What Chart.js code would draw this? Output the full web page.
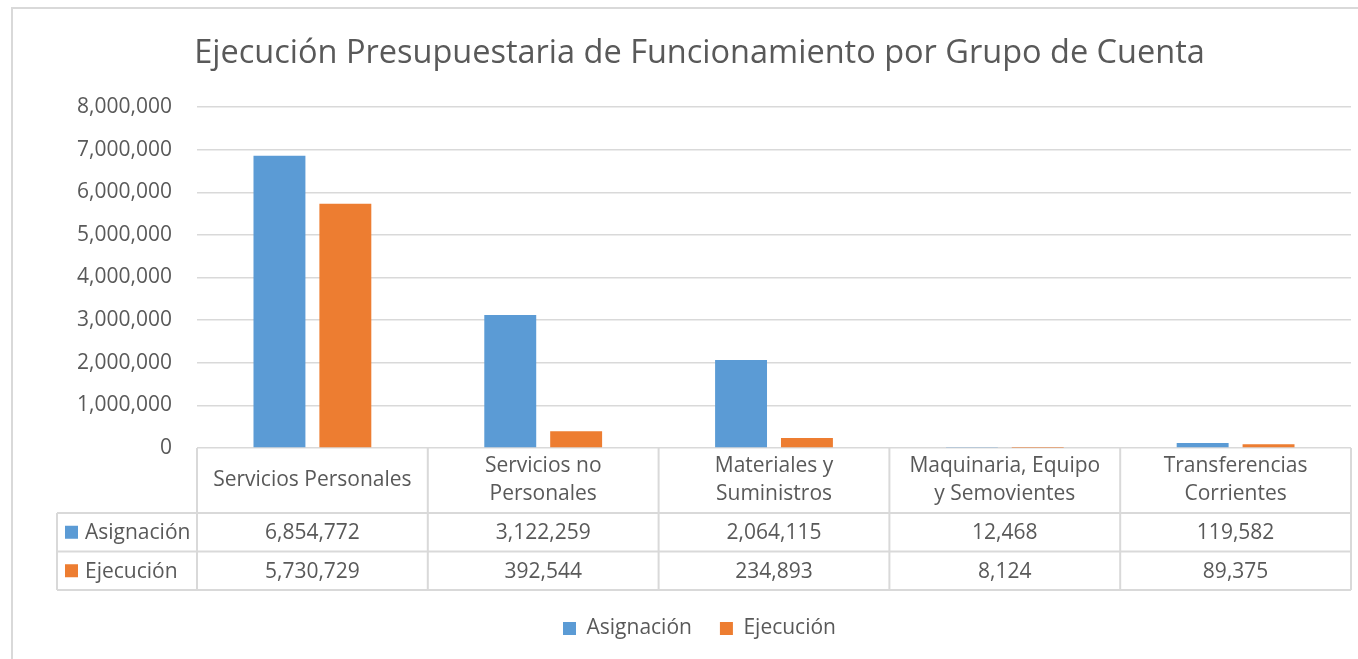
<!DOCTYPE html>
<html>
<head>
<meta charset="utf-8">
<script src="https://cdn.jsdelivr.net/npm/chart.js@4.4.1/dist/chart.umd.min.js"></script>
<style>
    html, body { margin: 0; padding: 0; background: #fff; overflow: hidden; }
    #wrap { position: relative; width: 1358px; height: 659px; overflow: hidden; }
    #frame { position: absolute; left: 11px; top: 7px; width: 1400px; height: 700px; border: 2px solid #d9d9d9; }
    canvas { position: absolute; left: 0; top: 0; }
</style>
</head>
<body>
<div id="wrap">
    <div id="frame"></div>
    <canvas id="budgetChart" width="1358" height="669"></canvas>
</div>
<script>
// ===============================
// DATA
// ===============================
const categories = [
    ["Servicios Personales"],
    ["Servicios no", "Personales"],
    ["Materiales y", "Suministros"],
    ["Maquinaria, Equipo", "y Semovientes"],
    ["Transferencias", "Corrientes"]
];
const asignacion = [6854772, 3122259, 2064115, 12468, 119582];
const ejecucion = [5730729, 392544, 234893, 8124, 89375];
const yTicks = [0, 1000000, 2000000, 3000000, 4000000, 5000000, 6000000, 7000000, 8000000];

const BLUE = "#5b9bd5";
const ORANGE = "#ed7d31";
const TEXT = "#595959";
const LINE = "#d9d9d9";
const FONT = "'Open Sans'";
const SMALL = 21;

const fmt = v => v.toLocaleString("en-US");

// ===============================
// DATA TABLE UNDER THE AXIS
// ===============================
const dataTablePlugin = {
    id: "dataTable",
    afterDraw(chart) {
        const ctx = chart.ctx;
        const xs = chart.scales.x;
        const area = chart.chartArea;
        const n = categories.length;
        const colW = (area.right - area.left) / n;
        const rowH = 38.5;
        const top = area.bottom;
        const bottom = xs.bottom;
        const headBottom = bottom - 2 * rowH;
        const tableLeft = 57;

        const rows = chart.data.datasets;

        ctx.save();
        ctx.strokeStyle = LINE;
        ctx.lineWidth = 2;
        ctx.beginPath();
        [headBottom, headBottom + rowH, bottom].forEach(y => {
            ctx.moveTo(tableLeft, y);
            ctx.lineTo(area.right, y);
        });
        ctx.moveTo(tableLeft, headBottom);
        ctx.lineTo(tableLeft, bottom);
        for (let i = 0; i < n; i++) {
            const edge = xs.getPixelForValue(i) - colW / 2;
            ctx.moveTo(edge, top);
            ctx.lineTo(edge, bottom);
        }
        ctx.moveTo(area.right, top);
        ctx.lineTo(area.right, bottom);
        ctx.stroke();

        ctx.fillStyle = TEXT;
        ctx.font = SMALL + "px " + FONT;
        ctx.textAlign = "center";
        ctx.textBaseline = "middle";

        // header
        const headMid = (top + headBottom) / 2;
        categories.forEach((lines, i) => {
            const cx = xs.getPixelForValue(i);
            const start = headMid - (lines.length - 1) * 14;
            lines.forEach((t, k) => ctx.fillText(t, cx, start + k * 28));
        });

        // rows
        rows.forEach((ds, r) => {
            const cy = headBottom + rowH * r + rowH / 2;
            ctx.fillStyle = ds.backgroundColor;
            ctx.fillRect(65, cy - 6.5, 13, 13);
            ctx.fillStyle = TEXT;
            ctx.textAlign = "left";
            ctx.fillText(ds.label, 85, cy + 1);
            ctx.textAlign = "center";
            ds.data.forEach((v, i) => {
                ctx.fillText(fmt(v), xs.getPixelForValue(i), cy + 1);
            });
        });
        ctx.restore();
    }
};

// ===============================
// CHART
// ===============================
const ctx = document.getElementById("budgetChart").getContext("2d");

new Chart(ctx, {
    type: "bar",
    data: {
        labels: categories,
        datasets: [
            { label: "Asignación", data: asignacion, backgroundColor: BLUE, borderWidth: 0 },
            { label: "Ejecución", data: ejecucion, backgroundColor: ORANGE, borderWidth: 0 }
        ]
    },
    options: {
        responsive: false,
        animation: false,
        devicePixelRatio: 1,
        categoryPercentage: 0.571,
        barPercentage: 0.788,
        layout: { padding: { left: 48, right: 7, top: 0, bottom: 20 } },
        plugins: {
            title: {
                display: true,
                text: "Ejecución Presupuestaria de Funcionamiento por Grupo de Cuenta",
                color: TEXT,
                font: { family: FONT, size: 32.5, weight: "normal" },
                padding: { top: 34, bottom: 34 }
            },
            legend: {
                position: "bottom",
                labels: {
                    color: TEXT,
                    font: { family: FONT, size: SMALL },
                    boxWidth: 13,
                    boxHeight: 13,
                    padding: 28
                }
            },
            tooltip: { enabled: false }
        },
        scales: {
            x: {
                ticks: { display: false },
                grid: { display: false },
                border: { display: false },
                afterFit: scale => { scale.height = 142; }
            },
            y: {
                min: 0,
                max: 8000000,
                afterBuildTicks: scale => { scale.ticks = yTicks.map(v => ({ value: v })); },
                ticks: {
                    color: TEXT,
                    font: { family: FONT, size: SMALL },
                    padding: 25,
                    callback: v => fmt(v)
                },
                grid: { color: LINE, lineWidth: 1.5, drawTicks: false },
                border: { display: false },
                afterFit: scale => { scale.width = 149; }
            }
        }
    },
    plugins: [dataTablePlugin]
});
</script>
</body>
</html>
